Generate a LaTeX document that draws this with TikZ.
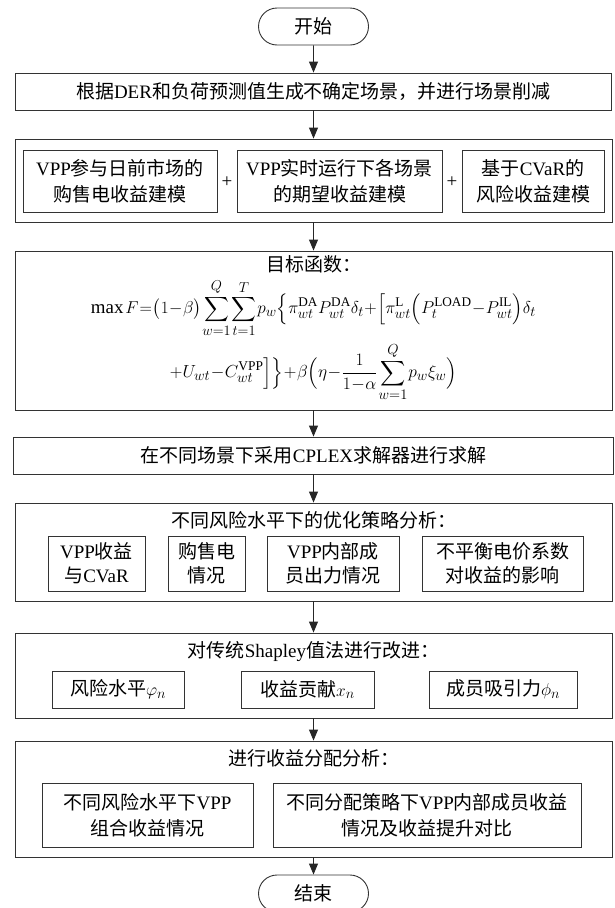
\documentclass[tikz,border=0pt]{standalone}
\usepackage{amsmath}
\usepackage{fontspec}
\setmainfont{Noto Sans CJK SC}
\setmathrm{Liberation Serif}
\newfontfamily\latn{Liberation Serif}
\usetikzlibrary{arrows.meta,shapes.misc}
\newcommand{\tight}{\thickmuskip=1mu\medmuskip=0.5mu\thinmuskip=1mu}
\begin{document}
\begin{tikzpicture}[x=1pt,y=-1pt,
  box/.style={draw=black!80, line width=0.9pt, inner sep=0pt, align=center},
  term/.style={draw=black!80, line width=0.9pt, rounded rectangle, minimum width=110pt, minimum height=37pt, inner sep=0pt},
  arr/.style={draw=black!85, line width=0.9pt, -{Triangle[length=11pt,width=9pt]}},
  every node/.style={font=\fontsize{19}{26}\selectfont}
]
\useasboundingbox (0,0) rectangle (614,908);

\node[term] (start) at (313.5,26.5) {开始};

\node[box, minimum width=596pt, minimum height=37pt] (b1) at (313.5,91.5)
  {根据{\latn DER}和负荷预测值生成不确定场景，并进行场景削减};

\node[box, minimum width=597pt, minimum height=83pt] (b2) at (313.5,180.5) {};
\node[box, minimum width=194pt, minimum height=62pt] (b2a) at (120,181)
  {{\latn VPP}参与日前市场的\\购售电收益建模};
\node (p1) at (227,182) {\latn +};
\node[box, minimum width=205pt, minimum height=62pt] (b2b) at (339.5,181)
  {{\latn VPP}实时运行下各场景\\的期望收益建模};
\node (p2) at (452,182) {\latn +};
\node[box, minimum width=142pt, minimum height=62pt] (b2c) at (533,181)
  {基于{\latn CVaR}的\\风险收益建模};

\node[box, minimum width=597pt, minimum height=159pt] (b3) at (313.5,330.5) {};
\node (t3) at (313.5,264) {目标函数：};
\node[anchor=mid] (f1) at (313.5,311) {\resizebox{445pt}{!}{$\tight\displaystyle \max\;F=\bigl(1-\beta\bigr)\sum_{w=1}^{Q}\sum_{t=1}^{T}p_w\Bigl\{\pi_{wt}^{\mathrm{DA}}P_{wt}^{\mathrm{DA}}\delta_t+\Bigl[\pi_{wt}^{\mathrm{L}}\Bigl(P_t^{\mathrm{LOAD}}-P_{wt}^{\mathrm{IL}}\Bigr)\delta_t$}};
\node[anchor=mid] (f2) at (313.5,375) {\resizebox{287pt}{!}{$\tight\displaystyle +U_{wt}-C_{wt}^{\mathrm{VPP}}\Bigr]\Bigr\}+\beta\Bigl(\eta-\frac{1}{1-\alpha}\sum_{w=1}^{Q}p_w\xi_w\Bigr)$}};

\node[box, minimum width=600pt, minimum height=37pt] (b4) at (313.5,455.5)
  {在不同场景下采用{\latn CPLEX}求解器进行求解};

\node[box, minimum width=597pt, minimum height=98pt] (b5) at (313.5,552) {};
\node (t5) at (313.5,520) {不同风险水平下的优化策略分析：};
\node[box, minimum width=97pt, minimum height=55pt, font=\fontsize{19}{24}\selectfont] (b5a) at (96.5,563.5)
  {{\latn VPP}收益\\与{\latn CVaR}};
\node[box, minimum width=77pt, minimum height=55pt, font=\fontsize{19}{24}\selectfont] (b5b) at (206.5,563.5)
  {购售电\\情况};
\node[box, minimum width=132pt, minimum height=55pt, font=\fontsize{19}{24}\selectfont] (b5c) at (333,563.5)
  {{\latn VPP}内部成\\员出力情况};
\node[box, minimum width=161pt, minimum height=55pt, font=\fontsize{19}{24}\selectfont] (b5d) at (502.5,563.5)
  {不平衡电价系数\\对收益的影响};

\node[box, minimum width=597pt, minimum height=85pt] (b6) at (313.5,675.5) {};
\node (t6) at (313.5,652) {对传统{\latn Shapley}值法进行改进：};
\node[box, minimum width=132pt, minimum height=37pt] (b6a) at (118,689.5)
  {风险水平$\varphi_n$};
\node[box, minimum width=133pt, minimum height=37pt] (b6b) at (307.5,689.5)
  {收益贡献$x_n$};
\node[box, minimum width=148pt, minimum height=37pt] (b6c) at (503,689.5)
  {成员吸引力$\phi_n$};

\node[box, minimum width=597pt, minimum height=116pt] (b7) at (313.5,799) {};
\node (t7) at (313.5,758) {进行收益分配分析：};
\node[box, minimum width=211pt, minimum height=64pt] (b7a) at (147.5,815)
  {不同风险水平下{\latn VPP}\\组合收益情况};
\node[box, minimum width=308pt, minimum height=64pt] (b7b) at (427,815)
  {不同分配策略下{\latn VPP}内部成员收益\\情况及收益提升对比};

\node[term] (end) at (313.5,893.5) {结束};

\draw[arr] (start) -- (b1);
\draw[arr] (b1) -- (b2);
\draw[arr] (b2) -- (b3);
\draw[arr] (b3) -- (b4);
\draw[arr] (b4) -- (b5);
\draw[arr] (b5) -- (b6);
\draw[arr] (b6) -- (b7);
\draw[arr] (b7) -- (end);
\end{tikzpicture}
\end{document}
